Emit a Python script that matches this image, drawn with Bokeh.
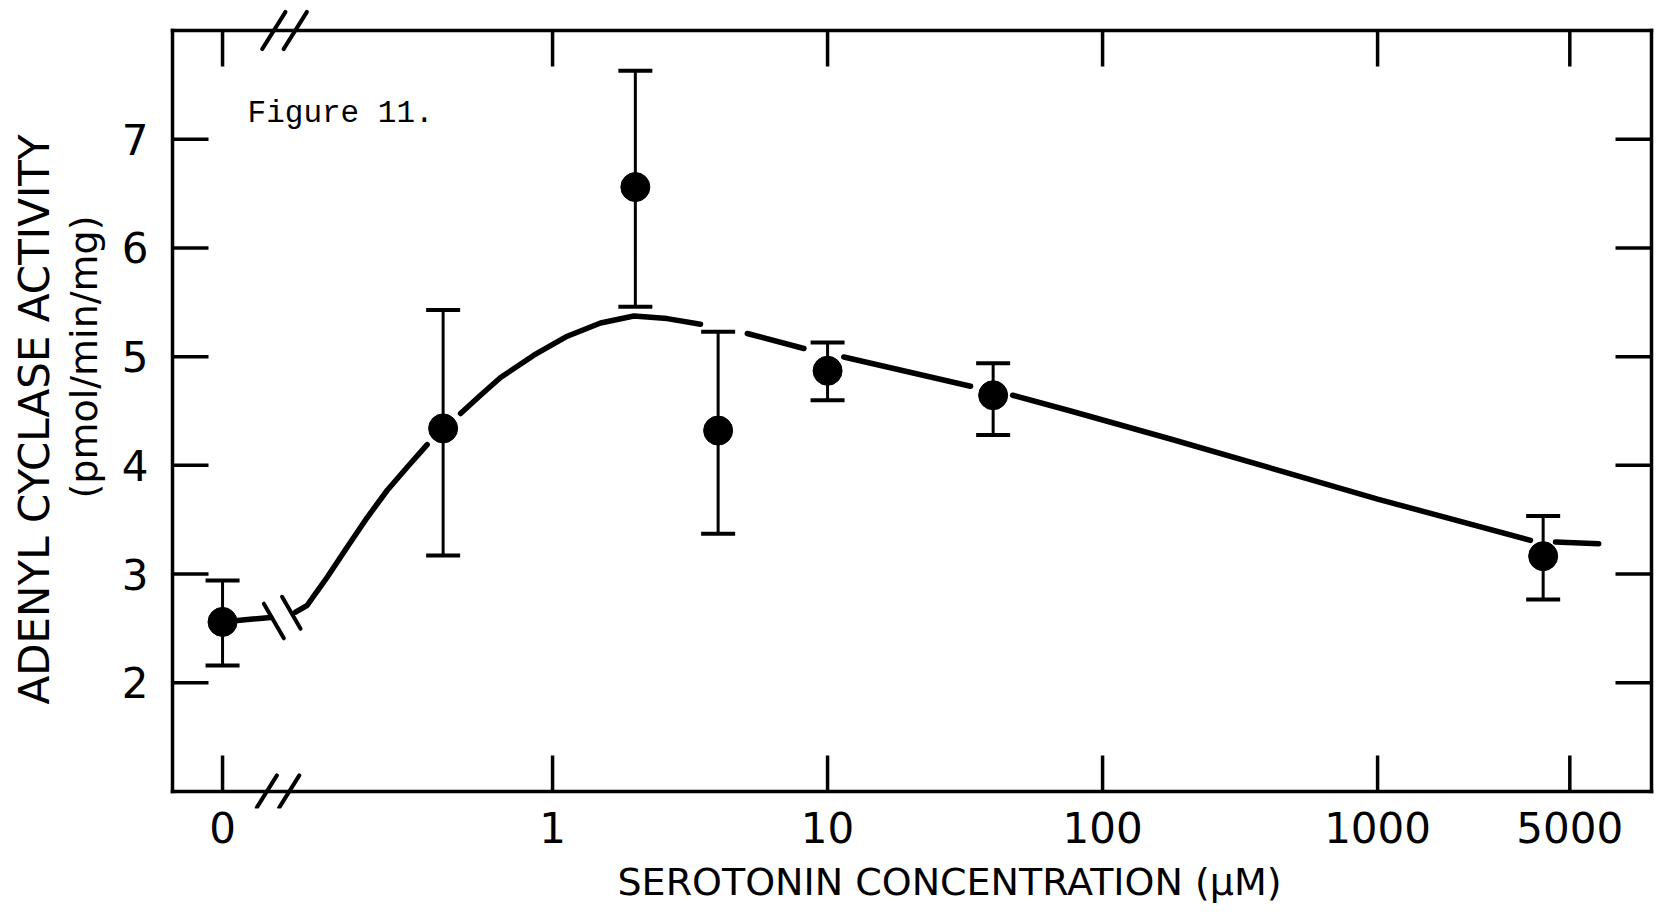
import math
import numpy as np
from bokeh.plotting import figure
from bokeh.models import (ColumnDataSource, Whisker, TeeHead, FixedTicker,
                          LinearAxis, Label, Range1d, Title)
from bokeh.embed import file_html
from bokeh.resources import INLINE

# ---------------- data ----------------
conc_uM = [0, 0.4, 2, 4, 10, 40, 4000]
activity = [2.56, 4.34, 6.56, 4.32, 4.87, 4.645, 3.165]
err_upper = [2.94, 5.43, 7.63, 5.23, 5.13, 4.94, 3.535]
err_lower = [2.16, 3.17, 5.46, 3.37, 4.60, 4.28, 2.765]

x_tick_values = [0, 1, 10, 100, 1000, 5000]
x_tick_labels = ["0", "1", "10", "100", "1000", "5000"]
y_tick_values = [2, 3, 4, 5, 6, 7]

# hand-drawn fitted curve, x as axis position (log10 of concentration;
# values below -1 lie in the broken stretch next to the "0" point), NaN = gap
nan = float("nan")
curve_log_conc = [-1.2, -1.10, -1.025, nan,
                  -0.9345, -0.892, -0.862, -0.819, -0.7465, -0.674, -0.601, -0.528, -0.456, nan,
                  -0.3345, -0.262, -0.189, -0.068, 0.0535, 0.1745, 0.2956, 0.417, 0.538, nan,
                  0.708, 0.914, nan,
                  1.059, 1.52, nan,
                  1.673, 1.884, 2.25, 3.0, 3.556, nan,
                  3.647, 3.804]
curve_activity = [2.56, 2.584, 2.60, nan,
                  2.651, 2.713, 2.821, 2.973, 3.249, 3.520, 3.771, 3.985, 4.191, nan,
                  4.477, 4.645, 4.808, 5.013, 5.188, 5.31, 5.374, 5.35, 5.298, nan,
                  5.213, 5.075, nan,
                  4.997, 4.728, nan,
                  4.645, 4.50, 4.24, 3.69, 3.31, nan,
                  3.295, 3.28]

ZERO_POS = -1.2          # axis position that stands in for concentration 0
X_MIN, X_MAX = -1.382, 3.996   # plot box
Y_MIN, Y_MAX = 1.0, 8.0


def to_axis(c):
    return ZERO_POS if c == 0 else math.log10(c)


# ---------------- geometry ----------------
BOX_W, BOX_H = 1479, 761          # px size of the drawn box
PX_X = BOX_W / (X_MAX - X_MIN)
PX_Y = BOX_H / (Y_MAX - Y_MIN)
PAD_L, PAD_R, PAD_T, PAD_B = 6, 6, 22, 17   # frame extends past the box (room for break marks)

W, H = 1660, 920
ML, MT = 166, 8
MR = W - ML - (BOX_W + PAD_L + PAD_R)
MB = H - MT - (BOX_H + PAD_T + PAD_B)

xs = [to_axis(c) for c in conc_uM]
src = ColumnDataSource(dict(x=xs, y=activity, hi=err_upper, lo=err_lower))

p = figure(width=W, height=H, output_backend="svg", toolbar_location=None,
           x_range=Range1d(X_MIN - PAD_L / PX_X, X_MAX + PAD_R / PX_X),
           y_range=Range1d(Y_MIN - PAD_B / PX_Y, Y_MAX + PAD_T / PX_Y),
           x_axis_type=None, y_axis_type=None,
           min_border_left=ML, min_border_right=MR,
           min_border_top=MT, min_border_bottom=MB)
p.background_fill_color = "white"
p.border_fill_color = "white"
p.outline_line_color = None

FONT = "DejaVu Sans"
xt = [to_axis(v) for v in x_tick_values]
overrides = {t: lab for t, lab in zip(xt, x_tick_labels)}


def label_axis(ticks):
    ax = LinearAxis(ticker=FixedTicker(ticks=ticks))
    ax.axis_line_color = None
    ax.major_tick_line_color = None
    ax.minor_tick_line_color = None
    ax.major_tick_in = 0
    ax.major_tick_out = 0
    ax.major_label_text_font = FONT
    ax.major_label_text_font_size = "42px"
    ax.major_label_text_color = "black"
    return ax


bottom = label_axis(xt)
bottom.major_label_overrides = overrides
bottom.major_label_standoff = 3
left = label_axis(y_tick_values)
left.major_label_standoff = 18
p.add_layout(bottom, "below")
p.add_layout(left, "left")

# axis titles (side-panel titles so they sit outside the box)
p.add_layout(Title(text="SEROTONIN CONCENTRATION (\u00b5M)", align="left", offset=451,
                   text_font=FONT, text_font_size="38px", text_font_style="normal",
                   text_color="black", standoff=24), "below")
p.add_layout(Title(text="(pmol/min/mg)", align="left", offset=310,
                   text_font=FONT, text_font_size="38px", text_font_style="normal",
                   text_color="black", standoff=25), "left")
p.add_layout(Title(text="ADENYL CYCLASE ACTIVITY", align="left", offset=104,
                   text_font=FONT, text_font_size="42px", text_font_style="normal",
                   text_color="black", standoff=-22), "left")

# ---------------- box and inward ticks ----------------
LW = 3.5
TICK = 36
p.segment(x0=[X_MIN, X_MIN, X_MIN, X_MAX], y0=[Y_MIN, Y_MAX, Y_MIN, Y_MIN],
          x1=[X_MAX, X_MAX, X_MIN, X_MAX], y1=[Y_MIN, Y_MAX, Y_MAX, Y_MAX],
          line_width=LW, line_color="black", line_cap="square")
n = len(xt)
p.segment(x0=xt, x1=xt, y0=[Y_MIN] * n, y1=[Y_MIN + TICK / PX_Y] * n,
          line_width=LW, line_color="black")
p.segment(x0=xt, x1=xt, y0=[Y_MAX] * n, y1=[Y_MAX - TICK / PX_Y] * n,
          line_width=LW, line_color="black")
m = len(y_tick_values)
p.segment(x0=[X_MIN] * m, x1=[X_MIN + TICK / PX_X] * m, y0=y_tick_values, y1=y_tick_values,
          line_width=LW, line_color="black")
p.segment(x0=[X_MAX] * m, x1=[X_MAX - TICK / PX_X] * m, y0=y_tick_values, y1=y_tick_values,
          line_width=LW, line_color="black")

# ---------------- error bars, curve, points ----------------
wh = Whisker(source=src, base="x", upper="hi", lower="lo", dimension="height",
             line_width=3, line_color="black",
             upper_head=TeeHead(size=34, line_width=4, line_color="black"),
             lower_head=TeeHead(size=34, line_width=4, line_color="black"))
p.add_layout(wh)

p.line(np.array(curve_log_conc), np.array(curve_activity), line_width=5.5,
       line_color="black", line_cap="round")

p.scatter(x="x", y="y", source=src, size=29, marker="circle",
          fill_color="black", line_color="black")

# ---------------- break marks ----------------
sx0, sy0, sx1, sy1 = [], [], [], []


def slash(cx, cy, length_px, angle_deg):
    a = math.radians(angle_deg)
    dx = math.cos(a) * length_px / 2 / PX_X
    dy = math.sin(a) * length_px / 2 / PX_Y
    sx0.append(cx - dx); sy0.append(cy - dy)
    sx1.append(cx + dx); sy1.append(cy + dy)


for bx in (-1.0135, -0.9356):
    slash(bx, Y_MAX, 44, 58)
for bx in (-1.039, -0.9575):
    slash(bx, Y_MIN, 38, 58)
slash(-1.0135, 2.568, 40, -60)
slash(-0.950, 2.644, 37, -60)
p.segment(x0=sx0, y0=sy0, x1=sx1, y1=sy1, line_width=4, line_color="black",
          line_cap="round")

# ---------------- figure note ----------------
p.add_layout(Label(x=-1.109, y=7.232, text="Figure 11.", text_font="Liberation Mono",
                   text_font_size="31px", text_align="left", text_baseline="alphabetic",
                   text_color="black"))

open("out.html", "w").write(file_html(p, INLINE))
